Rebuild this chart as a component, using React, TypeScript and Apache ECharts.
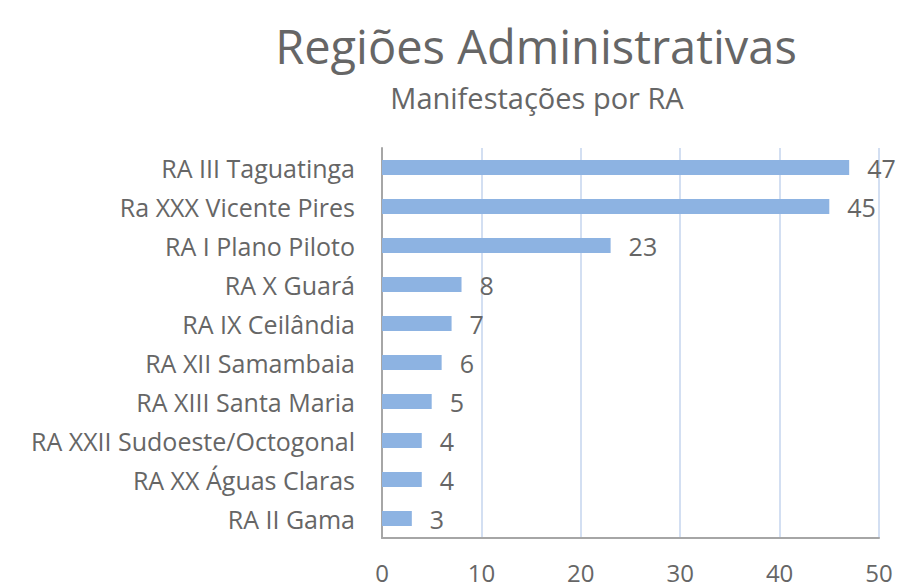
import React, { useEffect, useRef } from "react";
import * as echarts from "echarts";

const categories = [
  "RA III Taguatinga",
  "Ra XXX Vicente Pires",
  "RA I Plano Piloto",
  "RA X Guará",
  "RA IX Ceilândia",
  "RA XII Samambaia",
  "RA XIII Santa Maria",
  "RA XXII Sudoeste/Octogonal",
  "RA XX Águas Claras",
  "RA II Gama",
];
const values = [47, 45, 23, 8, 7, 6, 5, 4, 4, 3];
const titleText = "Regiões Administrativas";
const subtitleText = "Manifestações por RA";

const FONT = "'Open Sans', sans-serif";
const GRAY = "#666666";

export default function App() {
  const ref = useRef<HTMLDivElement>(null);
  useEffect(() => {
    if (!ref.current) return;
    const chart = echarts.init(ref.current, null, { renderer: "svg" });
    chart.setOption({
      animation: false,
      backgroundColor: "#ffffff",
      title: [
        {
          text: titleText,
          left: 531,
          top: 17,
          textAlign: "center",
          textStyle: { fontFamily: FONT, fontSize: 47, fontWeight: "normal", color: GRAY },
        },
        {
          text: subtitleText,
          left: 532,
          top: 78,
          textAlign: "center",
          textStyle: { fontFamily: FONT, fontSize: 29, fontWeight: "normal", color: GRAY },
        },
      ],
      grid: { left: 382, right: 18, top: 148, bottom: 50, containLabel: false },
      xAxis: {
        type: "value",
        min: 0,
        max: 50,
        interval: 10,
        axisLine: { show: true, lineStyle: { color: "#a6a6a6", width: 2 } },
        axisTick: { show: false },
        splitLine: { show: true, lineStyle: { color: "#c5d5ee", width: 1.5 } },
        axisLabel: { fontFamily: FONT, fontSize: 24, lineHeight: 24, color: GRAY, margin: 22 },
      },
      yAxis: {
        type: "category",
        inverse: true,
        data: categories,
        axisLine: { show: true, lineStyle: { color: "#a6a6a6", width: 2 } },
        axisTick: { show: false },
        axisLabel: { fontFamily: FONT, fontSize: 25, color: GRAY, margin: 27 },
      },
      series: [
        {
          type: "bar",
          data: values,
          barWidth: 15,
          itemStyle: { color: "#8db3e2" },
          label: {
            show: true,
            position: "right",
            distance: 18,
            fontFamily: FONT,
            fontSize: 25,
            color: GRAY,
          },
        },
      ],
    });
    return () => chart.dispose();
  }, []);
  return (
    <div
      ref={ref}
      style={{ position: "absolute", left: 0, top: 0, width: 897, height: 588 }}
    />
  );
}
